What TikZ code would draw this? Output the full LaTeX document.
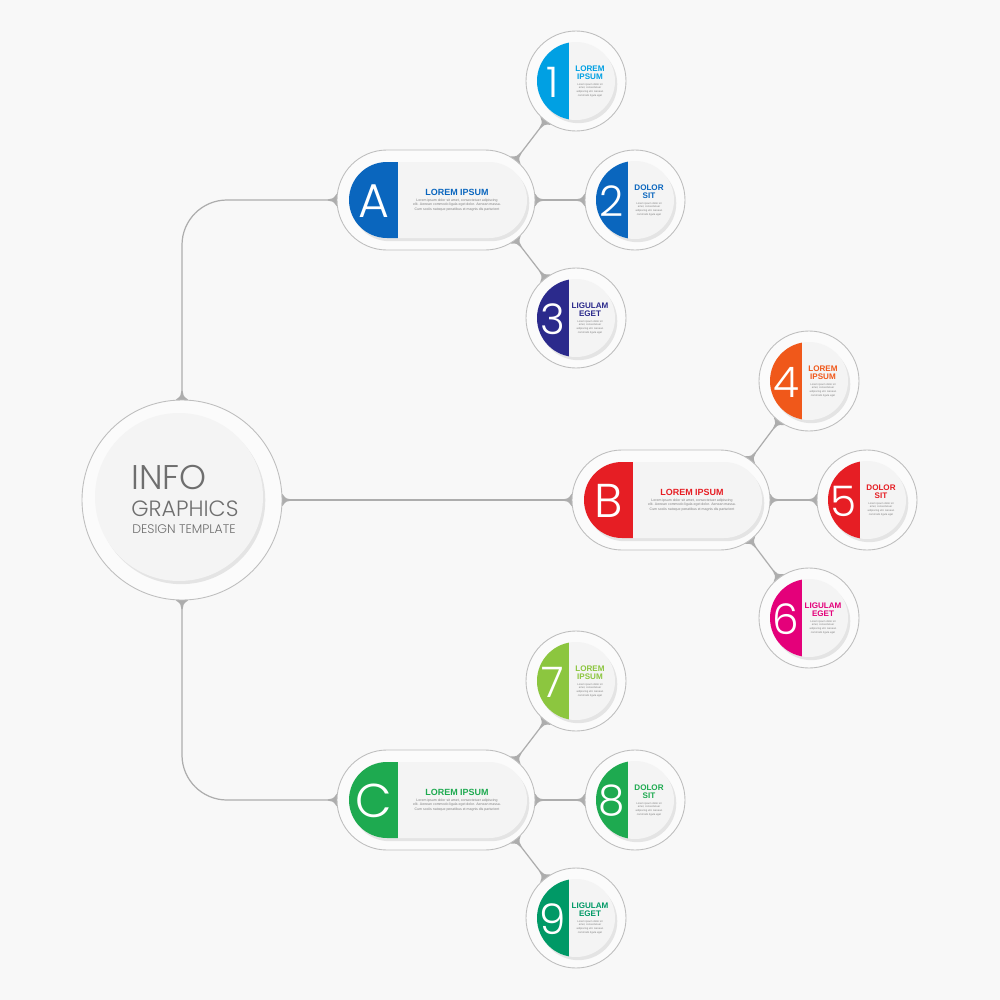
\documentclass[tikz,border=0pt]{standalone}
\usepackage{fontspec}
\setmainfont{Liberation Sans}
\IfFontExistsTF{Poppins Light}{\newfontfamily\thinfont{Poppins Light}}{\newfontfamily\thinfont{Poppins}}
\usetikzlibrary{shapes.misc,shadows,arrows.meta}

\definecolor{pagebg}{HTML}{F8F8F8}
\definecolor{ringbg}{HTML}{FBFBFB}
\definecolor{diskbg}{HTML}{F4F4F4}
\definecolor{ringline}{HTML}{BEBEBE}
\definecolor{linkgray}{HTML}{ADADAD}
\definecolor{infogray}{HTML}{6E6E6E}
\definecolor{cyanA}{HTML}{00A0E3}
\definecolor{blueA}{HTML}{0A66BE}
\definecolor{indigoA}{HTML}{2B2A8C}
\definecolor{orangeB}{HTML}{F0581A}
\definecolor{redB}{HTML}{E61E24}
\definecolor{magentaB}{HTML}{E4007A}
\definecolor{limeC}{HTML}{8CC63F}
\definecolor{greenC}{HTML}{1EAA50}
\definecolor{tealC}{HTML}{009966}

\pgfdeclarelayer{links}
\pgfsetlayers{links,main}

\pgfdeclarearrow{
	name = Flare,
	parameters = {\the\pgfarrowlength,\the\pgfarrowwidth},
	setup code = {
		\pgfarrowssettipend{0pt}
		\pgfarrowssetlineend{-0.9\pgfarrowlength}
		\pgfarrowssetbackend{-\pgfarrowlength}
		\pgfarrowssavethe\pgfarrowlength
		\pgfarrowssavethe\pgfarrowwidth
	},
	drawing code = {
		\pgfpathmoveto{\pgfpoint{1.5pt}{0.5\pgfarrowwidth}}
		\pgfpathlineto{\pgfpoint{0pt}{0.5\pgfarrowwidth}}
		\pgfpathcurveto{\pgfpoint{-0.3\pgfarrowlength}{0.12\pgfarrowwidth}}{\pgfpoint{-0.6\pgfarrowlength}{0.35pt}}{\pgfpoint{-\pgfarrowlength}{0.35pt}}
		\pgfpathlineto{\pgfpoint{-\pgfarrowlength}{-0.35pt}}
		\pgfpathcurveto{\pgfpoint{-0.6\pgfarrowlength}{-0.35pt}}{\pgfpoint{-0.3\pgfarrowlength}{-0.12\pgfarrowwidth}}{\pgfpoint{0pt}{-0.5\pgfarrowwidth}}
		\pgfpathlineto{\pgfpoint{1.5pt}{-0.5\pgfarrowwidth}}
		\pgfpathclose
		\pgfusepathqfill
	},
	defaults = {length = 5pt, width = 7pt}
}

\tikzset{
	ring/.style={circle, draw=ringline, line width=0.5pt, fill=ringbg, minimum size=20mm, inner sep=0pt},
	pillring/.style={rounded rectangle, draw=ringline, line width=0.5pt, fill=ringbg, minimum width=39.6mm, minimum height=20mm, inner sep=0pt},
	hub/.style={circle, minimum size=20mm, inner sep=0pt},
	disk/.style={fill=diskbg, drop shadow={shadow xshift=1.3pt, shadow yshift=-1.8pt, opacity=0.18}},
	link/.style={draw=linkgray, line width=0.7pt, {Flare}-{Flare}},
	digit/.style={text=white, font=\thinfont\fontsize{24}{24}\selectfont, inner sep=0pt},
	letter/.style={text=white, font=\thinfont\fontsize{27}{27}\selectfont, inner sep=0pt},
	headline/.style={font=\bfseries\fontsize{4.6}{4.7}\selectfont, align=center, inner sep=0pt},
	blurb/.style={text=gray, font=\fontsize{1.5}{2.1}\selectfont, align=center, inner sep=0pt},
	infotext/.style={text=infogray, anchor=base west, inner sep=0pt}
}

\newcommand\numitem[6]{
	\node[ring] (#1) at (#2,#3) {};
	\fill[disk] (#2,#3) circle (39);
	\begin{scope}
		\clip (#2,#3) circle (39);
		\fill[#4] (#2-40,#3-40) rectangle (#2-7,#3+40);
	\end{scope}
	\node[digit] (#1-num) at (#2-23,#3+1) {#5};
	\node[headline, text=#4] (#1-head) at (#2+14,#3-8) {#6};
	\node[blurb] (#1-text) at (#2+14,#3+9) {Lorem ipsum dolor sit\\amet, consectetuer\\adipiscing elit. Aenean\\commodo ligula eget};
}

\newcommand\pillitem[5]{
	\node[pillring] (#1) at (#2,#3) {};
	\node[hub] (#1-cap) at (#2+49,#3) {};
	\fill[disk, rounded corners=7.6mm] (#2-87,#3-38) rectangle (#2+91,#3+38);
	\begin{scope}
		\clip[rounded corners=7.6mm] (#2-87,#3-38) rectangle (#2+91,#3+38);
		\fill[#4] (#2-90,#3-40) rectangle (#2-38,#3+40);
	\end{scope}
	\node[letter] (#1-letter) at (#2-62,#3+1) {#5};
	\node[headline, text=#4, font=\bfseries\fontsize{5.1}{5.1}\selectfont] (#1-head) at (#2+21,#3-8) {LOREM IPSUM};
	\node[blurb, font=\fontsize{2}{2.4}\selectfont] (#1-text) at (#2+21,#3+5) {Lorem ipsum dolor sit amet, consectetuer adipiscing\\elit. Aenean commodo ligula eget dolor. Aenean massa.\\Cum sociis natoque penatibus et magnis dis parturient};
}

\begin{document}
\begin{tikzpicture}[x=0.2mm, y=-0.2mm]
	\begin{pgfonlayer}{links}
		\fill[pagebg] (0,0) rectangle (1000,1000);
	\end{pgfonlayer}

	\node[ring, minimum size=40mm] (info) at (182,500) {};
	\fill[disk] (179,497) circle (84);
	\node[infotext, font=\thinfont\fontsize{19.5}{19.5}\selectfont] (info-1) at (131,489) {INFO};
	\node[infotext, font=\thinfont\fontsize{12.6}{12.6}\selectfont] (info-2) at (131,516) {GRAPHICS};
	\node[infotext, font=\thinfont\fontsize{7.1}{7.1}\selectfont] (info-3) at (132,533) {DESIGN TEMPLATE};

	\pillitem{pa}{436}{200}{blueA}{A}
	\pillitem{pb}{671}{500}{redB}{B}
	\pillitem{pc}{436}{800}{greenC}{C}

	\foreach \n/\x/\y/\col/\d/\h in {
		c1/576/81/cyanA/1/LOREM\\IPSUM,
		c2/635/200/blueA/2/DOLOR\\SIT,
		c3/576/318/indigoA/3/LIGULAM\\EGET,
		c4/809/381/orangeB/4/LOREM\\IPSUM,
		c5/867/500/redB/5/DOLOR\\SIT,
		c6/809/618/magentaB/6/LIGULAM\\EGET,
		c7/576/681/limeC/7/LOREM\\IPSUM,
		c8/635/800/greenC/8/DOLOR\\SIT,
		c9/576/918/tealC/9/LIGULAM\\EGET}
		{\numitem{\n}{\x}{\y}{\col}{\d}{\h}}

	\begin{pgfonlayer}{links}
		\draw[link, rounded corners=9mm] (info.north) |- (pa.west);
		\draw[link, rounded corners=9mm] (info.south) |- (pc.west);
		\draw[link] (info) -- (pb);
		\foreach \p/\a/\b/\c in {pa/c1/c2/c3, pb/c4/c5/c6, pc/c7/c8/c9} {
			\draw[link] (\p-cap) -- (\a);
			\draw[link] (\p-cap) -- (\b);
			\draw[link] (\p-cap) -- (\c);
		}
	\end{pgfonlayer}
\end{tikzpicture}
\end{document}
